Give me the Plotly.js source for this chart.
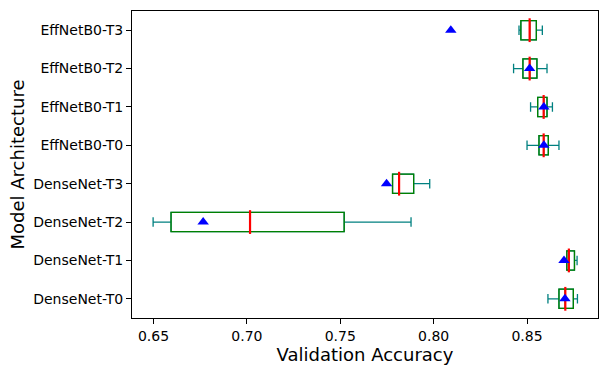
<!DOCTYPE html>
<html>
<head>
<meta charset="utf-8">
<script src="https://cdn.plot.ly/plotly-3.0.1.min.js"></script>
<style>html,body{margin:0;padding:0;background:#fff;}#chart{width:607px;height:375px;}</style>
</head>
<body>
<div id="chart"></div>
<script>
const models = ["DenseNet-T0","DenseNet-T1","DenseNet-T2","DenseNet-T3","EffNetB0-T0","EffNetB0-T1","EffNetB0-T2","EffNetB0-T3"];
const whiskerLow  = [0.8612, 0.8713, 0.6498, 0.7780, 0.8500, 0.8519, 0.8428, 0.8457];
const q1          = [0.8671, 0.8713, 0.6594, 0.7780, 0.8564, 0.8557, 0.8478, 0.8467];
const medians     = [0.8705, 0.8724, 0.7017, 0.7815, 0.8589, 0.8589, 0.8514, 0.8514];
const q3          = [0.8748, 0.8754, 0.7521, 0.7893, 0.8614, 0.8607, 0.8553, 0.8550];
const whiskerHigh = [0.8770, 0.8768, 0.7879, 0.7979, 0.8671, 0.8636, 0.8607, 0.8582];
const means       = [0.8703, 0.8698, 0.6766, 0.7748, 0.8590, 0.8590, 0.8514, 0.8092];
const xTicks = [0.65, 0.70, 0.75, 0.80, 0.85];

const font = "DejaVu Sans, sans-serif";
const traces = [
  { // whiskers (teal)
    type: "box", orientation: "h", y: models,
    q1: q1, median: medians, q3: q3, lowerfence: whiskerLow, upperfence: whiskerHigh,
    width: 0.5, whiskerwidth: 0.5, boxpoints: false,
    line: {color: "#008080", width: 1.3}, fillcolor: "rgba(0,0,0,0)",
    hoverinfo: "skip", showlegend: false
  },
  { // boxes (green)
    type: "box", orientation: "h", y: models,
    q1: q1, median: medians, q3: q3, lowerfence: q1, upperfence: q3,
    width: 0.5, whiskerwidth: 0, boxpoints: false,
    line: {color: "#008000", width: 1.3}, fillcolor: "rgba(0,0,0,0)",
    hoverinfo: "skip", showlegend: false
  },
  { // medians (red)
    type: "scatter", mode: "markers", x: medians, y: models,
    marker: {symbol: "line-ns", size: 17, color: "#ff0000", line: {color: "#ff0000", width: 2.2}},
    hoverinfo: "skip", showlegend: false
  },
  { // means (blue triangles)
    type: "scatter", mode: "markers", x: means, y: models,
    marker: {symbol: "triangle-up", size: 10, color: "#0000ff", line: {width: 0}},
    hoverinfo: "skip", showlegend: false
  }
];

const layout = {
  width: 607, height: 375,
  margin: {l: 132, r: 9, t: 11, b: 57},
  paper_bgcolor: "#fff", plot_bgcolor: "#fff",
  boxmode: "overlay",
  showlegend: false,
  font: {family: font, color: "#000", size: 14},
  xaxis: {
    range: [0.6385, 0.888], tickvals: xTicks, tickformat: ".2f",
    ticks: "outside", ticklen: 5, tickwidth: 1, tickcolor: "#000",
    showline: true, linecolor: "#000", linewidth: 1, mirror: true,
    showgrid: false, zeroline: false,
    tickfont: {family: font, size: 14},
    title: {text: "Validation Accuracy", font: {family: font, size: 18}, standoff: 5}
  },
  yaxis: {
    type: "category", range: [-0.5, 7.5],
    ticks: "outside", ticklen: 5, tickwidth: 1, tickcolor: "#000",
    showline: true, linecolor: "#000", linewidth: 1, mirror: true,
    showgrid: false, zeroline: false,
    tickfont: {family: font, size: 14},
    title: {text: "Model Architecture", font: {family: font, size: 18}, standoff: 3}
  }
};

Plotly.newPlot("chart", traces, layout, {displayModeBar: false, staticPlot: true});
</script>
</body>
</html>
